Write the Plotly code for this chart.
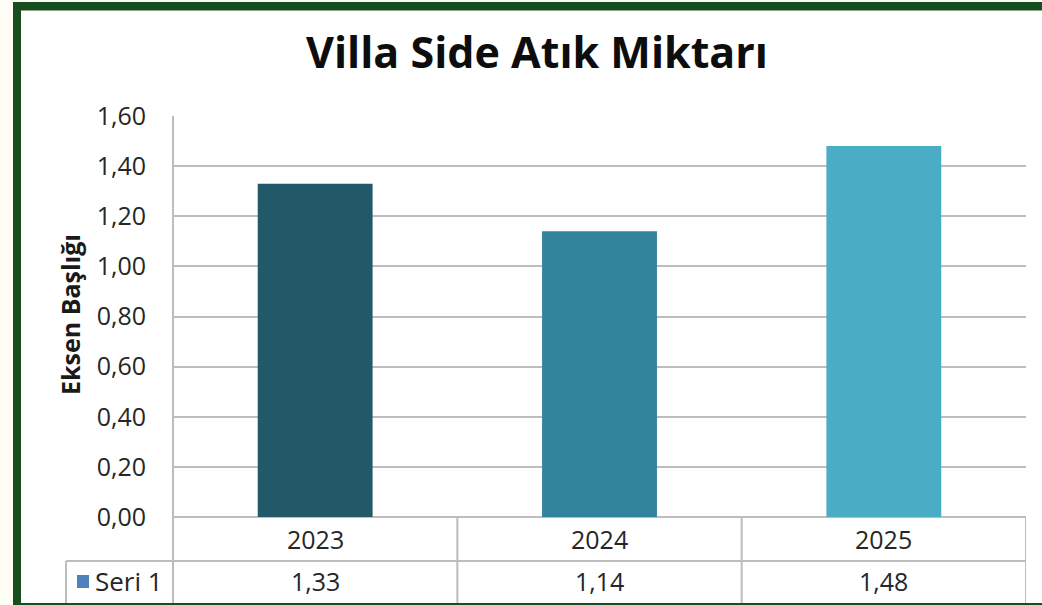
import plotly.graph_objects as go

# ---- data ----
categories = ["2023", "2024", "2025"]
values = [1.33, 1.14, 1.48]
bar_colors = ["#215968", "#31849B", "#4BACC6"]
series_name = "Seri 1"
title_text = "Villa Side Atık Miktarı"
y_title = "Eksen Başlığı"
y_ticks = [0.0, 0.2, 0.4, 0.6, 0.8, 1.0, 1.2, 1.4, 1.6]

W, H = 1042, 605
# plot area in window pixels
P_LEFT, P_RIGHT, P_TOP, P_BOTTOM = 173, 1026, 116, 517
L = P_LEFT
R = W - P_RIGHT
T = P_TOP
B = H - P_BOTTOM
PW, PH = W - L - R, H - T - B

def px(x):
    """window pixel x -> paper"""
    return (x - L) / PW

def py(y):
    """window pixel y -> paper"""
    return (H - B - y) / PH

FONT = "Open Sans"
GRID = "#bdbdbd"
GREEN = "#184e1d"
CREAM = "#fffef6"

fig = go.Figure()
fig.add_trace(go.Bar(
    x=categories, y=values, marker=dict(color=bar_colors, line=dict(width=0)),
    name=series_name, showlegend=False, hoverinfo="skip",
))

def fmt(v):
    return f"{v:.2f}".replace(".", ",")

shapes = []
annotations = []

line = dict(color=GRID, width=2)
# y axis line extended down through the table
shapes.append(dict(type="line", xref="paper", yref="paper", x0=0, x1=0, y0=1, y1=py(H + 2), line=line, layer="above"))
for i in range(len(categories)):
    shapes.append(dict(type="line", xref="x", yref="paper", x0=i + 0.5, x1=i + 0.5, y0=0, y1=py(H + 2), line=line))
# row separator (from legend cell to right)
shapes.append(dict(type="line", xref="paper", yref="paper", x0=px(66), x1=1, y0=py(561), y1=py(561), line=line))
# legend cell left edge
shapes.append(dict(type="line", xref="paper", yref="paper", x0=px(66), x1=px(66), y0=py(561), y1=py(H + 2), line=line))
# legend key
shapes.append(dict(type="rect", xref="paper", yref="paper", x0=px(77), x1=px(89), y0=py(575), y1=py(588),
                   fillcolor="#4F81BD", line=dict(width=0)))

# border decoration
shapes.append(dict(type="rect", xref="paper", yref="paper", x0=px(-2), x1=px(13), y0=py(-2), y1=py(H + 2),
                   fillcolor=CREAM, line=dict(width=0), layer="above"))
shapes.append(dict(type="rect", xref="paper", yref="paper", x0=px(-2), x1=px(W + 2), y0=py(-2), y1=py(2),
                   fillcolor=CREAM, line=dict(width=0), layer="above"))
shapes.append(dict(type="rect", xref="paper", yref="paper", x0=px(13), x1=px(W + 2), y0=py(2), y1=py(10.5),
                   fillcolor=GREEN, line=dict(width=0), layer="above"))
shapes.append(dict(type="rect", xref="paper", yref="paper", x0=px(13), x1=px(21), y0=py(2), y1=py(H + 2),
                   fillcolor=GREEN, line=dict(width=0), layer="above"))
shapes.append(dict(type="rect", xref="paper", yref="paper", x0=px(21), x1=px(W + 2), y0=py(603), y1=py(H + 2),
                   fillcolor=GREEN, line=dict(width=0), layer="above"))

# table text
tfont = dict(family=FONT, size=25, color="#262626")
for i, (c, v) in enumerate(zip(categories, values)):
    annotations.append(dict(x=i, xref="x", y=py(539), yref="paper", text=c, showarrow=False,
                            font=tfont, xanchor="center", yanchor="middle"))
    annotations.append(dict(x=i, xref="x", y=py(581), yref="paper", text=fmt(v), showarrow=False,
                            font=tfont, xanchor="center", yanchor="middle"))
annotations.append(dict(x=px(93), xref="paper", y=py(581), yref="paper", text=series_name, showarrow=False,
                        font=dict(family=FONT, size=26, color="#262626"), xanchor="left", yanchor="middle"))
# y axis title
annotations.append(dict(x=px(70), xref="paper", y=py(315), yref="paper", text=f"<b>{y_title}</b>",
                        textangle=-90, showarrow=False, font=dict(family=FONT, size=25, color="#1a1a1a"),
                        xanchor="center", yanchor="middle"))
# title
annotations.append(dict(x=px(537), xref="paper", y=py(52), yref="paper", text=f"<b>{title_text}</b>",
                        showarrow=False, font=dict(family=FONT, size=43, color="#0d0d0d"),
                        xanchor="center", yanchor="middle"))

fig.update_layout(
    width=W, height=H,
    margin=dict(l=L, r=R, t=T, b=B, pad=0),
    paper_bgcolor="white", plot_bgcolor="white",
    separators=",.",
    bargap=0.596,
    shapes=shapes, annotations=annotations,
    showlegend=False,
)
fig.update_xaxes(type="category", range=[-0.5, 2.5], showticklabels=False, showgrid=False,
                 zeroline=False, showline=False, ticks="")
fig.update_yaxes(range=[0, 1.6], tickvals=y_ticks, tickformat=".2f", showgrid=True, gridcolor=GRID, gridwidth=2,
                 zeroline=True, zerolinecolor=GRID, zerolinewidth=2, showline=False, ticks="",
                 ticklabelstandoff=26, tickfont=dict(family=FONT, size=25, color="#262626"))

fig.write_html(
    "out.html",
    config={"displayModeBar": False},
    post_script="document.body.style.margin='0';document.body.style.overflow='hidden';",
)
